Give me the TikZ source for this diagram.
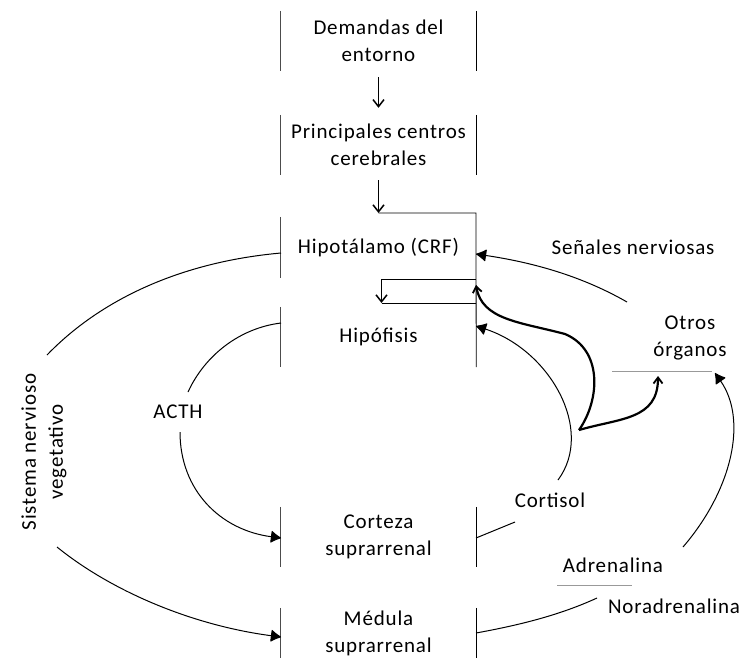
\documentclass[tikz,border=0pt]{standalone}
\usepackage{fontspec}
\setmainfont{Carlito}[LetterSpace=4]
\usetikzlibrary{arrows.meta}

\begin{document}
\begin{tikzpicture}[x=1pt,y=-1pt,
        block/.style={minimum width=195pt, inner sep=0pt, align=center, font=\fontsize{21}{27}\selectfont},
        label/.style={inner sep=0pt, align=center, font=\fontsize{21}{27}\selectfont},
        lrule/.style={line width=1.2pt, black!70},
        rrule/.style={line width=0.8pt},
        flow/.style={line width=1.2pt, -{Straight Barb[length=7pt,width=11pt,line width=1.5pt]}},
        feed/.style={line width=1pt, -{Latex[round,length=11pt,width=13pt]}},
        thickfeed/.style={line width=2.2pt, -{Straight Barb[length=6pt,width=9pt,line width=1.8pt]}},
        rule/.style={line width=1pt, black!40}]
        \useasboundingbox (0,0) rectangle (744,657);

        % Blocks of the central column
        \node[block, minimum height=60pt] (dem) at (378.5,41) {Demandas del\\entorno};
        \node[block, minimum height=60pt] (cen) at (378.5,145) {Principales centros\\cerebrales};
        \node[block, minimum height=61pt] (hip) at (378.5,247.5) {Hipotálamo (CRF)};
        \node[block, minimum height=60pt] (hipo) at (378.5,337) {Hipófisis};
        \node[block, minimum height=60pt] (cor) at (378.5,537) {Corteza\\suprarrenal};
        \node[block, minimum height=50pt] (med) at (378.5,633) {Médula\\suprarrenal};

        % Side borders
        \foreach \b in {dem,cen,hip,hipo,cor,med}
            \draw[lrule] (\b.north west) -- (\b.south west);
        \foreach \b in {dem,cen,cor,med}
            \draw[rrule] (\b.north east) -- (\b.south east);

        % Labels
        \node[label] (senal) at (633,247) {Señales nerviosas};
        \node[label] (otros) at (690,338) {Otros\\órganos};
        \node[label] (acth) at (178,412) {ACTH};
        \node[label] (cort) at (550,500) {Cortisol};
        \node[label] (adren) at (613,565) {Adrenalina};
        \node[label] (noradr) at (674,606) {Noradrenalina};
        \node[label, rotate=90] (snv) at (44,452) {Sistema nervioso\\vegetativo};

        % Points on the borders
        \coordinate (hipTR) at (476,213);
        \coordinate (jA) at (476,279);
        \coordinate (jB) at (476,303);
        \coordinate (hipIn) at (476,254);
        \coordinate (hipoIn) at (476,326);
        \coordinate (hipL) at (281,253);
        \coordinate (hipoL) at (281,323);
        \coordinate (corL) at (281,538);
        \coordinate (medL) at (281,637);
        \coordinate (corR) at (476,538);
        \coordinate (medR) at (476,633);
        \coordinate (branch) at (579,430);

        % Main chain
        \draw[flow] ([yshift=-6pt]dem.south) -- ([yshift=7pt]cen.north);
        \draw[flow] ([yshift=-5pt]cen.south) -- (cen.south |- hipTR);
        \draw[rrule] (cen.south |- hipTR) -- (hipTR) -- (hipo.south east);
        \draw[rrule] (jA) -- ([xshift=3pt]jA -| hip.south);
        \draw[flow] ([xshift=3pt]jA -| hip.south) -- ([xshift=3pt]jB -| hip.south);
        \draw[rrule] ([xshift=3pt]jB -| hip.south) -- (jB);

        % Sistema nervioso vegetativo
        \draw[line width=1pt] (47,355) .. controls (100,300) and (180,262) .. (hipL);
        \draw[feed] (57,547) .. controls (110,590) and (190,625) .. (medL);

        % ACTH
        \draw[line width=1pt] (188,392) .. controls (205,355) and (240,328) .. (hipoL);
        \draw[feed] (180,432) .. controls (180,490) and (220,530) .. (corL);

        % Cortisol
        \draw[line width=1pt] (corR) -- (515,522);
        \draw[feed] (558,480) .. controls (595,430) and (550,350) .. (hipoIn);
        \draw[thickfeed] (branch) .. controls (600,400) and (603,350) .. (565,334)
            .. controls (520,322) and (482,320) .. ([yshift=-6pt]jA);
        \draw[thickfeed] (branch) .. controls (620,418) and (658,420) .. (658,376);

        % Senales nerviosas
        \draw[feed] (627,302) .. controls (580,275) and (530,262) .. (hipIn);

        % Adrenalina / Noradrenalina
        \draw[rule] (612,371) -- (712,371);
        \draw[feed] (683,547) .. controls (732,490) and (748,420) .. (715,373);
        \draw[rule] (557,585) -- (632,585);
        \draw[line width=1pt] (medR) .. controls (520,625) and (560,615) .. (597,598);
    \end{tikzpicture}
\end{document}
